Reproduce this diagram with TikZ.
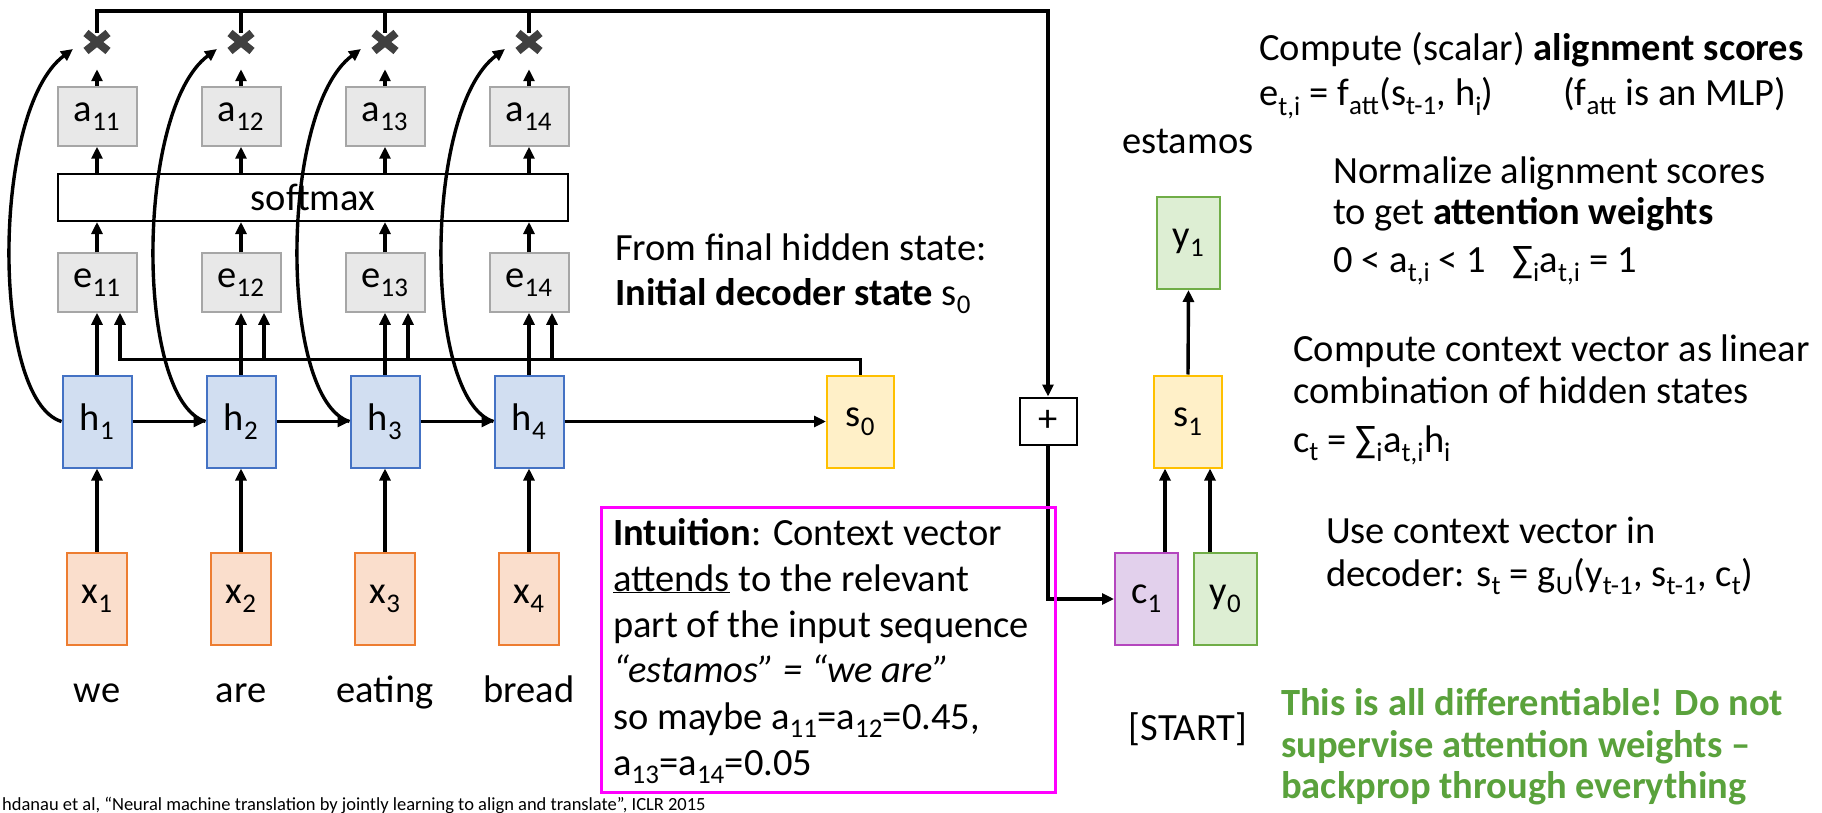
\documentclass[tikz,border=0pt]{standalone}
\usepackage{fontspec}
\setmainfont{Carlito}
\usetikzlibrary{arrows.meta,shapes.misc,calc}

\definecolor{grayfill}{RGB}{232,232,232}
\definecolor{grayline}{RGB}{166,166,166}
\definecolor{hfill}{RGB}{209,222,241}
\definecolor{hline}{RGB}{68,114,196}
\definecolor{xfill}{RGB}{250,222,204}
\definecolor{xline}{RGB}{237,125,49}
\definecolor{sfill}{RGB}{255,240,200}
\definecolor{sline}{RGB}{255,192,0}
\definecolor{yfill}{RGB}{221,238,211}
\definecolor{yline}{RGB}{112,173,71}
\definecolor{cfill}{RGB}{226,208,236}
\definecolor{cline}{RGB}{180,70,190}
\definecolor{crossgray}{RGB}{64,64,64}
\definecolor{notegreen}{RGB}{90,162,60}
\definecolor{framemagenta}{RGB}{255,0,255}

\newcommand{\lsub}[1]{\textsubscript{#1}}
\newcommand{\bigtext}{\fontsize{38.5}{44}\selectfont}

\begin{document}
\begin{tikzpicture}[x=1pt,y=-1pt,
  lbl/.style={font=\bigtext, inner sep=0pt},
  cell/.style={draw, line width=2pt, inner sep=0pt, font=\bigtext},
  abox/.style={cell, fill=grayfill, draw=grayline, minimum width=79pt, minimum height=58.5pt},
  hbox/.style={cell, fill=hfill, draw=hline, minimum width=69pt, minimum height=92pt},
  xbox/.style={cell, fill=xfill, draw=xline, minimum width=60pt, minimum height=92pt},
  sbox/.style={cell, fill=sfill, draw=sline, minimum width=67pt, minimum height=92pt},
  ybox/.style={cell, fill=yfill, draw=yline, minimum width=63pt, minimum height=92pt},
  cbox/.style={cell, fill=cfill, draw=cline, minimum width=63pt, minimum height=92pt},
  link/.style={line width=3.4pt},
  arr/.style={link, -{Triangle[length=12pt,width=11pt]}},
  mult/.style={cross out, draw=crossgray, line width=8pt, minimum width=22pt, minimum height=18pt, inner sep=0pt, outer sep=0pt},
]
\fill[white] (0,0) rectangle (1822,813);
\useasboundingbox (0,0) rectangle (1822,813);

% ---------- encoder columns ----------
\foreach \i/\cx in {1/97,2/241,3/385,4/529}{
  \node[xbox] (x\i) at (\cx,598.5) {x\lsub{\i}};
  \node[hbox] (h\i) at (\cx,421.5) {h\lsub{\i}};
  \node[abox] (e\i) at (\cx,282.5) {e\lsub{1\i}};
  \node[abox] (a\i) at (\cx,116.5) {a\lsub{1\i}};
}
\foreach \i/\cx/\w in {1/97/we,2/241/are,3/385/eating,4/529/bread}
  \node[lbl, anchor=base] (w\i) at (\cx,702) {\w};

\node[cell, draw=black, fill=white, minimum width=510pt, minimum height=47pt] (sm) at (313,197.5) {softmax};
\node[sbox] (s0) at (860.5,421.5) {s\lsub{0}};

% ---------- decoder ----------
\node[cell, draw=black, fill=white, minimum width=57pt, minimum height=47pt] (plus) at (1048,421) {+};
\node[sbox, minimum width=68pt] (s1) at (1188,421.5) {s\lsub{1}};
\node[ybox] (y1) at (1188.5,243) {y\lsub{1}};
\node[cbox] (c1) at (1146.5,599) {c\lsub{1}};
\node[ybox] (y0) at (1225.5,599) {y\lsub{0}};
\node[lbl, anchor=base] (estamos) at (1188,154) {estamos};
\node[lbl, anchor=base] (startword) at (1188,740) {[START]};

% ---------- encoder connectors ----------
\foreach \i in {1,...,4}{
  \draw[arr] (x\i.north) -- (h\i.south);
  \draw[arr] (h\i.north) -- (e\i.south);
  \draw[arr] (e\i.north) -- (e\i.north |- sm.south);
  \draw[arr] (a\i.south |- sm.north) -- (a\i.south);
  \coordinate (up\i) at ($(a\i.north)+(0,-17)$);
  \draw[arr] (a\i.north) -- (up\i);
}
\draw[arr] (h1.east) -- (h2.west);
\draw[arr] (h2.east) -- (h3.west);
\draw[arr] (h3.east) -- (h4.west);
\draw[arr] (h4.east) -- (s0.west);

% s0 feeds every score box
\draw[arr] (s0.north) |- ($(e1.south)+(23,47)$) -- ($(e1.south)+(23,0)$);
\foreach \i in {2,3,4}
  \draw[arr] ($(e\i.south)+(23,47)$) -- ($(e\i.south)+(23,0)$);

% products of weights and hidden states
\foreach \i/\cx in {1/97,2/241,3/385,4/529}
  \node[mult] (m\i) at (\cx,42) {};

% hidden states carried up to the products
\foreach \i in {1,...,4}{
  \coordinate (tip\i) at ($(m\i.center)+(-24,7)$);
  \draw[arr] (h\i.west) .. controls +(-70.5,-21.5) and +(-82,61) .. (tip\i);
}

% products summed into the context vector
\coordinate (bus) at (0,11);
\foreach \i in {2,3,4}
  \draw[link] (m\i.north) -- (m\i.north |- bus);
\draw[arr] (m1.north) -- (m1.north |- bus) -| (plus.north);
\draw[arr] (plus.south) |- (c1.west);

\draw[arr] ($(c1.north)+(18.5,0)$) -- ($(s1.south)+(-23,0)$);
\draw[arr] ($(y0.north)+(-15.5,0)$) -- ($(s1.south)+(22,0)$);
\draw[arr] (s1.north) -- (y1.south);

% ---------- explanation texts ----------
\node[lbl, anchor=base west] (f1) at (615,260) {From final hidden state:};
\node[lbl, anchor=base west] (f2) at (615,305) {\textbf{Initial decoder state} s\lsub{0}};

\node[draw=framemagenta, line width=3pt, minimum width=454pt, minimum height=285pt, inner sep=0pt] (frame) at (828,649.5) {};
\node[lbl, anchor=base west] (i1) at (613,545) {\textbf{Intuition}: Context vector};
\node[lbl, anchor=base west] (i2) at (613,591) {\underline{attends} to the relevant};
\node[lbl, anchor=base west] (i3) at (613,637) {part of the input sequence};
\node[lbl, anchor=base west] (i4) at (613,682) {\textit{“estamos” = “we are”}};
\node[lbl, anchor=base west] (i5) at (613,729) {so maybe a\lsub{11}=a\lsub{12}=0.45,};
\node[lbl, anchor=base west] (i6) at (613,775) {a\lsub{13}=a\lsub{14}=0.05};

\node[lbl, anchor=base west] (r1) at (1259,61) {Compute (scalar) \textbf{alignment scores}};
\node[lbl, anchor=base west] (r2) at (1259,106) {e\lsub{t,i} = f\lsub{att}(s\lsub{t-1}, h\lsub{i})};
\node[lbl, anchor=base west] (r3) at (1563,106) {(f\lsub{att} is an MLP)};
\node[lbl, anchor=base west] (r4) at (1333,184) {Normalize alignment scores};
\node[lbl, anchor=base west] (r5) at (1333,224) {to get \textbf{attention weights}};
\node[lbl, anchor=base west] (r6) at (1333,272) {0 < a\lsub{t,i} < 1};
\node[lbl, anchor=base west] (r7) at (1512,272) {∑\lsub{i}a\lsub{t,i} = 1};
\node[lbl, anchor=base west] (r8) at (1293,361) {Compute context vector as linear};
\node[lbl, anchor=base west] (r9) at (1293,403) {combination of hidden states};
\node[lbl, anchor=base west] (r10) at (1293,452) {c\lsub{t} = ∑\lsub{i}a\lsub{t,i}h\lsub{i}};
\node[lbl, anchor=base west] (r11) at (1326,543) {Use context vector in};
\node[lbl, anchor=base west] (r12) at (1326,586) {decoder: s\lsub{t} = g\lsub{U}(y\lsub{t-1}, s\lsub{t-1}, c\lsub{t})};

\node[lbl, anchor=base west, font=\bigtext\bfseries, text=notegreen] (g1) at (1281,715) {This is all differentiable! Do not};
\node[lbl, anchor=base west, font=\bigtext\bfseries, text=notegreen] (g2) at (1281,757) {supervise attention weights –};
\node[lbl, anchor=base west, font=\bigtext\bfseries, text=notegreen] (g3) at (1281,798) {backprop through everything};

\node[lbl, anchor=base west, font=\fontsize{18.5}{22}\selectfont] (cite) at (2,810) {hdanau et al, “Neural machine translation by jointly learning to align and translate”, ICLR 2015};
\end{tikzpicture}
\end{document}
